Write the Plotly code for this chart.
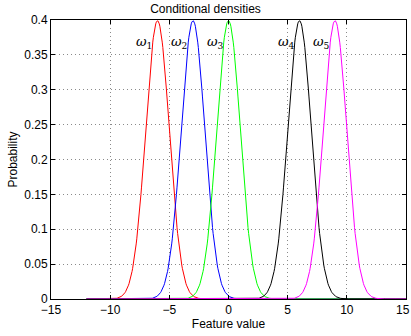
import numpy as np
import plotly.graph_objects as go

# Class-conditional densities (normal), parameters
class_labels = ["<i>ω</i><sub>1</sub>", "<i>ω</i><sub>2</sub>", "<i>ω</i><sub>3</sub>",
                "<i>ω</i><sub>4</sub>", "<i>ω</i><sub>5</sub>"]
class_means = [-6, -3, 0, 6, 9]
class_sigmas = [1, 1, 1, 1, 1]
class_colors = ["#ff0000", "#0000ff", "#00ff00", "#000000", "#ff00ff"]
x_start, x_end, x_step = -12, 15, 0.05
label_offset = -2
label_y = 0.368

x_ticks = [-15, -10, -5, 0, 5, 10, 15]
x_ticktext = ["\u221215", "\u221210", "\u22125", "0", "5", "10",
              "15<span style='color:rgba(0,0,0,0)'>0</span>"]
y_ticks = [0, 0.05, 0.1, 0.15, 0.2, 0.25, 0.3, 0.35, 0.4]

xs = np.arange(x_start, x_end + x_step / 2, x_step)

fig = go.Figure()
for lab, mu, sd, col in zip(class_labels, class_means, class_sigmas, class_colors):
    ys = np.exp(-0.5 * ((xs - mu) / sd) ** 2) / (sd * np.sqrt(2 * np.pi))
    fig.add_trace(go.Scatter(x=xs, y=ys, mode="lines", line=dict(color=col, width=1),
                             showlegend=False, hoverinfo="skip"))
    fig.add_annotation(x=mu + label_offset, y=label_y, text=lab, showarrow=False,
                       xanchor="left", yanchor="middle",
                       font=dict(family="DejaVu Serif", size=13, color="black"))

axis_common = dict(showline=True, linecolor="black", linewidth=1, mirror="allticks",
                   ticks="inside", ticklen=4, tickcolor="black",
                   showgrid=True, gridcolor="#8a8a8a", griddash="1px,3px", gridwidth=1,
                   zeroline=False, tickfont=dict(size=12, color="black"),
                   ticklabeloverflow="allow", automargin=False)

fig.update_layout(
    width=411, height=336,
    margin=dict(l=51, r=5, t=20, b=37, autoexpand=False),
    paper_bgcolor="white", plot_bgcolor="white",
    font=dict(family="Liberation Sans, Arial, sans-serif", size=12, color="black"),
    title=dict(text="Conditional densities", x=0.5, xanchor="center", y=0.985, yanchor="top",
               font=dict(size=12)),
    xaxis=dict(range=[-15, 15], tickvals=x_ticks, ticktext=x_ticktext,
               title=dict(text="Feature value", standoff=2, font=dict(size=12)), **axis_common),
    yaxis=dict(range=[0, 0.4], tickvals=y_ticks, ticktext=[f"{t:g}" for t in y_ticks],
               title=dict(text="Probability", standoff=4, font=dict(size=12)), **axis_common),
)

fig.write_html("out.html")
